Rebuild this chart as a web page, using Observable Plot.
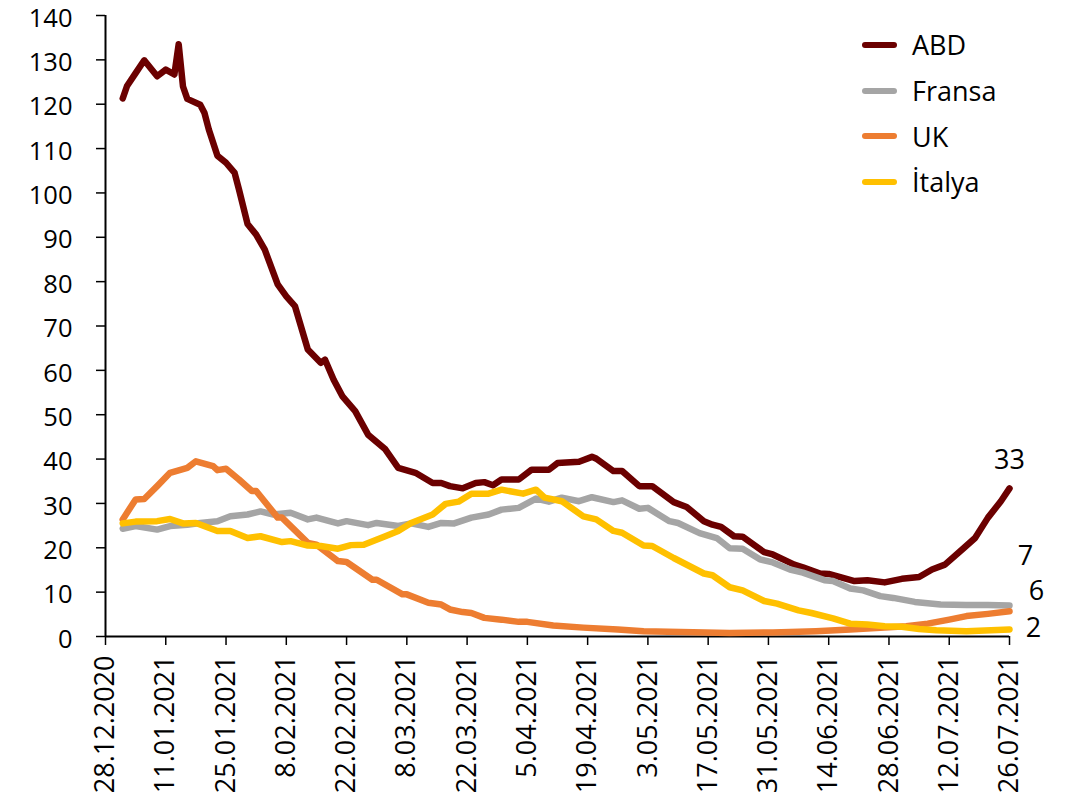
<!DOCTYPE html>
<html>
<head>
<meta charset="utf-8">
<script src="https://cdn.jsdelivr.net/npm/d3@7"></script>
<script src="https://cdn.jsdelivr.net/npm/@observablehq/plot@0.6"></script>
<style>
  body { margin: 0; background: #fff; }
  #wrap { position: relative; width: 1069px; height: 809px; }
  #legend { position: absolute; left: 862px; top: 22px; font-family: "Open Sans", sans-serif; font-size: 27px; color: #000; line-height: 1; }
  .row { display: flex; align-items: center; height: 45.7px; }
  .sw { width: 35px; height: 6px; border-radius: 3px; margin-right: 15px; }
</style>
</head>
<body>
<div id="wrap"><div id="legend"></div></div>
<script>
// ---- Data ----
const seriesNames = ["ABD", "Fransa", "UK", "İtalya"];
const seriesColors = ["#6B0000", "#A5A5A5", "#ED7D31", "#FFC000"];

const abdDates = ["2021-01-01","2021-01-02","2021-01-04","2021-01-06","2021-01-09","2021-01-11","2021-01-13","2021-01-14","2021-01-15","2021-01-16","2021-01-19","2021-01-20","2021-01-21","2021-01-23","2021-01-25","2021-01-27","2021-01-28","2021-01-30","2021-02-01","2021-02-03","2021-02-06","2021-02-08","2021-02-10","2021-02-13","2021-02-16","2021-02-17","2021-02-19","2021-02-21","2021-02-24","2021-02-27","2021-03-03","2021-03-06","2021-03-10","2021-03-14","2021-03-16","2021-03-18","2021-03-21","2021-03-24","2021-03-26","2021-03-28","2021-03-30","2021-04-03","2021-04-06","2021-04-10","2021-04-12","2021-04-17","2021-04-20","2021-04-21","2021-04-25","2021-04-27","2021-05-01","2021-05-04","2021-05-09","2021-05-12","2021-05-16","2021-05-18","2021-05-20","2021-05-23","2021-05-25","2021-05-27","2021-05-30","2021-06-01","2021-06-06","2021-06-08","2021-06-12","2021-06-14","2021-06-20","2021-06-23","2021-06-27","2021-07-01","2021-07-05","2021-07-08","2021-07-11","2021-07-15","2021-07-18","2021-07-21","2021-07-24","2021-07-26"];
const abdValues = [121.3,124.1,127.0,129.9,126.3,127.8,126.7,133.5,124.0,121.2,119.9,118.0,114.3,108.4,106.8,104.5,100.8,93.0,90.6,87.2,79.4,76.7,74.5,64.7,61.7,62.4,57.9,54.2,50.8,45.5,42.2,38.0,36.9,34.6,34.6,33.9,33.4,34.6,34.8,34.1,35.4,35.4,37.6,37.6,39.1,39.4,40.5,40.1,37.3,37.3,33.9,33.9,30.3,29.2,26.0,25.2,24.7,22.6,22.5,21.1,19.0,18.5,16.2,15.6,14.2,14.1,12.5,12.7,12.2,13.0,13.4,15.1,16.2,19.6,22.2,26.8,30.5,33.4];

const fraDates = ["2021-01-01","2021-01-04","2021-01-09","2021-01-12","2021-01-16","2021-01-19","2021-01-23","2021-01-26","2021-01-30","2021-02-02","2021-02-05","2021-02-09","2021-02-13","2021-02-15","2021-02-20","2021-02-22","2021-02-27","2021-03-01","2021-03-06","2021-03-09","2021-03-13","2021-03-16","2021-03-19","2021-03-23","2021-03-27","2021-03-30","2021-04-03","2021-04-07","2021-04-10","2021-04-13","2021-04-17","2021-04-20","2021-04-25","2021-04-27","2021-05-01","2021-05-03","2021-05-08","2021-05-10","2021-05-15","2021-05-19","2021-05-22","2021-05-25","2021-05-29","2021-06-01","2021-06-05","2021-06-08","2021-06-13","2021-06-15","2021-06-19","2021-06-22","2021-06-26","2021-06-29","2021-07-04","2021-07-10","2021-07-16","2021-07-21","2021-07-26"];
const fraValues = [24.3,24.9,24.1,24.9,25.2,25.6,26.0,27.1,27.5,28.2,27.5,27.9,26.4,26.8,25.5,26.0,25.1,25.6,24.9,25.5,24.7,25.6,25.5,26.8,27.5,28.6,29.0,31.1,30.4,31.3,30.5,31.4,30.3,30.7,28.8,29.0,26.0,25.6,23.3,22.2,19.9,19.8,17.4,16.7,15.1,14.4,12.7,12.5,10.8,10.4,9.1,8.7,7.8,7.2,7.1,7.1,7.0];

const ukDates = ["2021-01-01","2021-01-04","2021-01-06","2021-01-09","2021-01-12","2021-01-16","2021-01-18","2021-01-22","2021-01-23","2021-01-25","2021-01-28","2021-01-31","2021-02-01","2021-02-06","2021-02-07","2021-02-13","2021-02-15","2021-02-20","2021-02-22","2021-02-28","2021-03-01","2021-03-07","2021-03-08","2021-03-13","2021-03-16","2021-03-18","2021-03-21","2021-03-23","2021-03-26","2021-03-30","2021-04-03","2021-04-05","2021-04-11","2021-04-18","2021-04-26","2021-05-02","2021-05-22","2021-06-01","2021-06-11","2021-06-19","2021-06-27","2021-07-02","2021-07-07","2021-07-12","2021-07-16","2021-07-21","2021-07-26"];
const ukValues = [26.4,30.9,31.0,33.9,36.9,38.0,39.5,38.4,37.5,37.8,35.4,32.8,32.8,26.8,26.8,21.1,20.7,17.0,16.8,12.8,12.8,9.5,9.5,7.6,7.2,6.1,5.5,5.3,4.2,3.8,3.3,3.3,2.5,2.0,1.6,1.2,0.8,0.9,1.2,1.6,2.0,2.3,2.9,3.8,4.6,5.1,5.7];

const itaDates = ["2021-01-01","2021-01-04","2021-01-09","2021-01-12","2021-01-15","2021-01-18","2021-01-23","2021-01-26","2021-01-30","2021-02-02","2021-02-07","2021-02-09","2021-02-13","2021-02-16","2021-02-20","2021-02-23","2021-02-26","2021-03-03","2021-03-06","2021-03-09","2021-03-14","2021-03-17","2021-03-20","2021-03-23","2021-03-27","2021-03-30","2021-04-04","2021-04-07","2021-04-09","2021-04-13","2021-04-18","2021-04-21","2021-04-25","2021-04-27","2021-05-02","2021-05-04","2021-05-09","2021-05-16","2021-05-18","2021-05-22","2021-05-25","2021-05-30","2021-06-02","2021-06-07","2021-06-10","2021-06-15","2021-06-19","2021-06-23","2021-06-27","2021-07-01","2021-07-05","2021-07-09","2021-07-16","2021-07-26"];
const itaValues = [25.5,25.9,26.0,26.5,25.5,25.6,23.8,23.8,22.2,22.6,21.3,21.5,20.5,20.4,19.8,20.6,20.7,22.6,23.8,25.6,27.5,29.9,30.4,32.2,32.2,33.1,32.2,33.1,31.3,30.5,27.1,26.4,23.8,23.4,20.5,20.4,17.7,14.2,13.8,11.1,10.4,8.0,7.4,5.9,5.3,4.1,2.9,2.7,2.3,2.2,1.7,1.4,1.2,1.6];

const tickDates = ["2020-12-28","2021-01-11","2021-01-25","2021-02-08","2021-02-22","2021-03-08","2021-03-22","2021-04-05","2021-04-19","2021-05-03","2021-05-17","2021-05-31","2021-06-14","2021-06-28","2021-07-12","2021-07-26"];
const yTicks = [0,10,20,30,40,50,60,70,80,90,100,110,120,130,140];

// ---- Build tables ----
const toRows = (dates, values, name) => dates.map((d, i) => ({date: new Date(d + "T00:00:00Z"), value: values[i], series: name}));
const tables = [
  toRows(abdDates, abdValues, seriesNames[0]),
  toRows(fraDates, fraValues, seriesNames[1]),
  toRows(ukDates, ukValues, seriesNames[2]),
  toRows(itaDates, itaValues, seriesNames[3])
];
const ticks = tickDates.map(d => new Date(d + "T00:00:00Z"));
// label offsets (style only)
const labelOffsets = [[0, -28], [16, -49], [27, -20], [24, -1]];

const fmt = d3.utcFormat("%-d.%m.%Y");

const marks = [
  // y tick marks (no text)
  Plot.axisY({ticks: yTicks, tickSize: 9, tickFormat: () => "", stroke: "#000", strokeWidth: 1.5, label: null}),
  // y tick labels, nudged slightly down like the reference
  Plot.axisY({ticks: yTicks, tickSize: 0, tickPadding: 33, dy: 3, fontSize: 25.5, label: null, fill: "#000"}),
  Plot.axisX({ticks: ticks, tickSize: 9, tickPadding: 10, tickRotate: -90, tickFormat: fmt, stroke: "#000", strokeWidth: 1.5, fontSize: 27, label: null, fill: "#000"}),
  Plot.ruleY([0], {stroke: "#000", strokeWidth: 2}),
  Plot.ruleX([ticks[0]], {stroke: "#000", strokeWidth: 2})
];
tables.forEach((rows, i) => {
  marks.push(Plot.line(rows, {x: "date", y: "value", stroke: seriesColors[i], strokeWidth: 6.5, strokeLinejoin: "round", strokeLinecap: "round"}));
});
tables.forEach((rows, i) => {
  marks.push(Plot.text([rows[rows.length - 1]], {x: "date", y: "value", text: d => d3.format(".0f")(d.value), dx: labelOffsets[i][0], dy: labelOffsets[i][1], fontSize: 27, fill: "#000"}));
});

const chart = Plot.plot({
  width: 1069,
  height: 809,
  marginLeft: 105,
  marginRight: 60,
  marginTop: 15,
  marginBottom: 173,
  style: {fontFamily: "'Open Sans', sans-serif", background: "#fff", color: "#000", overflow: "visible"},
  x: {type: "utc", domain: [ticks[0], ticks[ticks.length - 1]]},
  y: {domain: [0, 140]},
  marks
});
const wrap = document.getElementById("wrap");
wrap.insertBefore(chart, wrap.firstChild);

// legend
const legend = document.getElementById("legend");
seriesNames.forEach((name, i) => {
  const row = document.createElement("div");
  row.className = "row";
  const sw = document.createElement("div");
  sw.className = "sw";
  sw.style.background = seriesColors[i];
  const t = document.createElement("span");
  t.textContent = name;
  row.appendChild(sw);
  row.appendChild(t);
  legend.appendChild(row);
});
</script>
</body>
</html>
